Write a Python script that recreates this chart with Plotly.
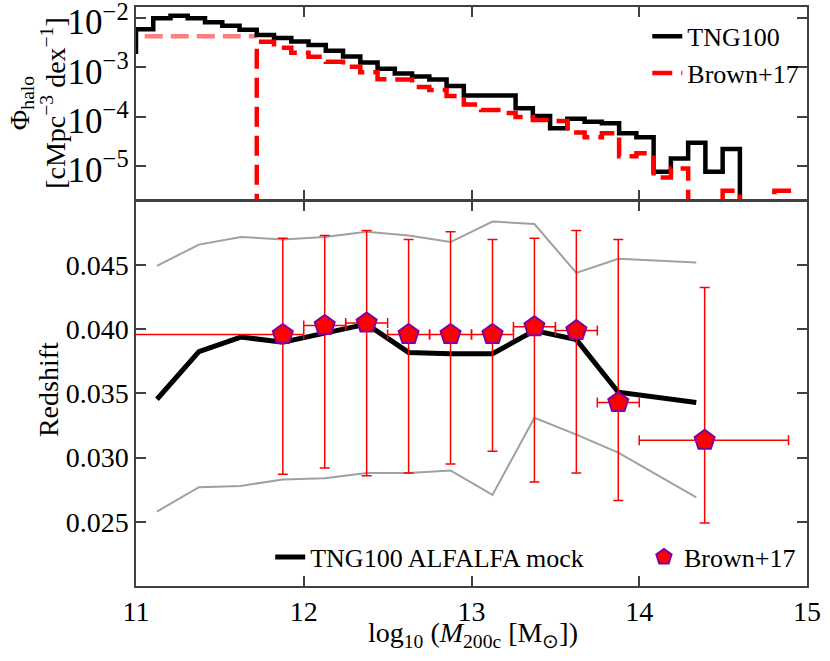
import numpy as np
import plotly.graph_objects as go

# ---- halo mass function (top panel) ----
# equal-width bins from 11 to 14.6, with one extra bin on the left and a few on the right
bin_width = 3.6 / 35
hist_edges = 11.0 + bin_width * np.arange(-1, 40)

phi_tng100 = [2.06e-3, 5.91e-3, 9.9e-3, 1.11e-2, 9.9e-3, 8.2e-3, 6.97e-3, 5.78e-3,
              4.51e-3, 3.92e-3, 3.34e-3, 2.82e-3, 2.16e-3, 1.65e-3, 1.25e-3, 9.3e-4,
              7.5e-4, 6.53e-4, 5.68e-4, 4.19e-4, 2.69e-4, 2.69e-4, 2.69e-4, 1.47e-4,
              1.03e-4, 5.77e-5, 9.0e-5, 7.85e-5, 7.29e-5, 4.56e-5, 3.78e-5, 7.55e-6,
              1.41e-5, 2.94e-5, 7.55e-6, 2.19e-5, 0, 0, 0, 0]

phi_brown = [0, 0, 0, 0, 0, 0, 0, 0,
             3.30e-3, 2.49e-3, 1.97e-3, 1.63e-3, 1.29e-3, 1.02e-3, 7.89e-4, 5.73e-4,
             5.68e-4, 4.0e-4, 3.48e-4, 2.62e-4, 1.76e-4, 1.36e-4, 1.18e-4, 9.8e-5,
             8.5e-5, 8.1e-5, 4.74e-5, 3.79e-5, 4.56e-5, 1.57e-5, 1.79e-5, 5.8e-6,
             8.85e-6, 0, 0, 3.1e-6, 0, 0, 3.1e-6, 0]

# Brown+17 lowest-mass bin (drawn faded)
phi_brown_first = 4.25e-3

# ---- redshift vs halo mass (bottom panel) ----
mass_mock = [11.125, 11.375, 11.625, 11.875, 12.125, 12.375, 12.625, 12.875,
             13.125, 13.375, 13.625, 13.875, 14.34]
z_median = [0.03455, 0.03826, 0.0394, 0.0390, 0.0397, 0.0404, 0.0382, 0.0381,
            0.0381, 0.0399, 0.0392, 0.0351, 0.0343]
z_upper = [0.04495, 0.0466, 0.0472, 0.0470, 0.0472, 0.0476, 0.0473, 0.0468,
           0.0484, 0.0482, 0.0444, 0.0455, 0.0452]
z_lower = [0.0258, 0.0277, 0.0278, 0.0283, 0.0284, 0.0288, 0.0288, 0.0290,
           0.0271, 0.0331, 0.0318, 0.0304, 0.0269]

brown_mass = [11.875, 12.125, 12.375, 12.625, 12.875, 13.125, 13.375, 13.625, 13.875, 14.39]
brown_mass_lo = [10.6, 12.0, 12.25, 12.5, 12.75, 13.0, 13.25, 13.5, 13.75, 14.0]
brown_mass_hi = [12.0, 12.25, 12.5, 12.75, 13.0, 13.25, 13.5, 13.75, 14.0, 14.89]
brown_z = [0.0396, 0.0403, 0.0405, 0.0396, 0.0396, 0.0396, 0.0402, 0.0399, 0.0343, 0.03135]
brown_z_hi = [0.0471, 0.0473, 0.0477, 0.0470, 0.0476, 0.0470, 0.0471, 0.0477, 0.0470, 0.04326]
brown_z_lo = [0.0287, 0.0292, 0.0286, 0.0288, 0.0295, 0.0305, 0.0281, 0.0288, 0.02666, 0.0249]

z_ticks = [0.025, 0.030, 0.035, 0.040, 0.045]

FONT = "Liberation Serif"
AXC = "#404040"


def steps(vals):
    # zero bins -> tiny value so the log axis keeps the drop to the floor
    v = np.where(np.array(vals) > 0, vals, 1e-12)
    return np.append(v, v[-1])


fig = go.Figure()

# top panel
fig.add_trace(go.Scatter(
    x=[hist_edges[0], hist_edges[8]], y=[phi_brown_first, phi_brown_first],
    mode="lines", line=dict(color="rgba(255,0,0,0.5)", width=4.5, dash="18px,8px"),
    showlegend=False, xaxis="x", yaxis="y"))
fig.add_trace(go.Scatter(
    x=hist_edges, y=steps(phi_tng100), mode="lines", line_shape="hv",
    line=dict(color="black", width=4.5), name="TNG100",
    legend="legend", xaxis="x", yaxis="y"))
fig.add_trace(go.Scatter(
    x=hist_edges, y=steps(phi_brown), mode="lines", line_shape="hv",
    line=dict(color="red", width=4.5, dash="20px,9px"), name="Brown+17",
    legend="legend", xaxis="x", yaxis="y"))

# bottom panel
for band in (z_upper, z_lower):
    fig.add_trace(go.Scatter(
        x=mass_mock, y=band, mode="lines", line=dict(color="#a0a0a0", width=2),
        showlegend=False, xaxis="x2", yaxis="y2"))
fig.add_trace(go.Scatter(
    x=mass_mock, y=z_median, mode="lines", line=dict(color="black", width=5),
    name="TNG100 ALFALFA mock", legend="legend2", xaxis="x2", yaxis="y2"))

bm = np.array(brown_mass)
bz = np.array(brown_z)
fig.add_trace(go.Scatter(
    x=brown_mass, y=brown_z, mode="markers", name="Brown+17",
    marker=dict(symbol="pentagon", size=21, color="red",
                line=dict(color="#8000a0", width=2)),
    error_x=dict(type="data", symmetric=False,
                 array=np.array(brown_mass_hi) - bm, arrayminus=bm - np.array(brown_mass_lo),
                 color="red", thickness=1.5, width=5),
    error_y=dict(type="data", symmetric=False,
                 array=np.array(brown_z_hi) - bz, arrayminus=bz - np.array(brown_z_lo),
                 color="red", thickness=1.5, width=5),
    legend="legend3", xaxis="x2", yaxis="y2"))

axis_common = dict(showline=True, linecolor=AXC, linewidth=1.5, mirror="allticks",
                   ticks="inside", ticklen=10, tickwidth=1.5, tickcolor=AXC,
                   showgrid=False, zeroline=False, ticklabeloverflow="allow",
                   automargin=False,
                   tickfont=dict(family=FONT, size=28, color="black"))

legend_common = dict(bgcolor="rgba(0,0,0,0)", font=dict(family=FONT, size=26))

fig.update_layout(
    width=830, height=661,
    margin=dict(l=136, r=23, t=7, b=75),
    paper_bgcolor="white", plot_bgcolor="white",
    font=dict(family=FONT, color="black"),
    xaxis=dict(domain=[0, 1], range=[11, 15], dtick=1, anchor="y",
               showticklabels=False, **axis_common),
    yaxis=dict(domain=[0.667, 1], type="log", range=[-5.69, -1.776], dtick=1,
               exponentformat="power", anchor="x", ticklabelshift=4, **axis_common),
    xaxis2=dict(domain=[0, 1], range=[11, 15], dtick=1, anchor="y2",
                matches="x", **axis_common),
    yaxis2=dict(domain=[0, 0.665], range=[0.020, 0.050], tickvals=z_ticks,
                tickformat=".3f", anchor="x2", **axis_common),
    legend=dict(x=0.762, y=0.99, xanchor="left", yanchor="top", **legend_common),
    legend2=dict(x=0.2, y=0.05, xanchor="left", yanchor="middle", **legend_common),
    legend3=dict(x=0.757, y=0.05, xanchor="left", yanchor="middle", **legend_common),
    annotations=[
        dict(text="Φ<sub>halo</sub><br>[cMpc<sup>−3</sup> dex<sup>−1</sup>]",
             xref="paper", yref="paper", x=-0.148, y=0.834, textangle=-90,
             showarrow=False, xanchor="center", yanchor="middle",
             font=dict(family=FONT, size=28)),
        dict(text="Redshift", xref="paper", yref="paper", x=-0.131, y=0.3385,
             textangle=-90, showarrow=False, xanchor="center", yanchor="middle",
             font=dict(family=FONT, size=28)),
        dict(text="log<sub>10</sub> (<i>M</i><sub>200c</sub> [M<sub>⊙</sub>])",
             xref="paper", yref="paper", x=0.502, y=-0.083, showarrow=False,
             xanchor="center", yanchor="middle", font=dict(family=FONT, size=28)),
    ],
)

fig.write_html("out.html", config={"displayModeBar": False},
               post_script="document.body.style.margin='0px';")
